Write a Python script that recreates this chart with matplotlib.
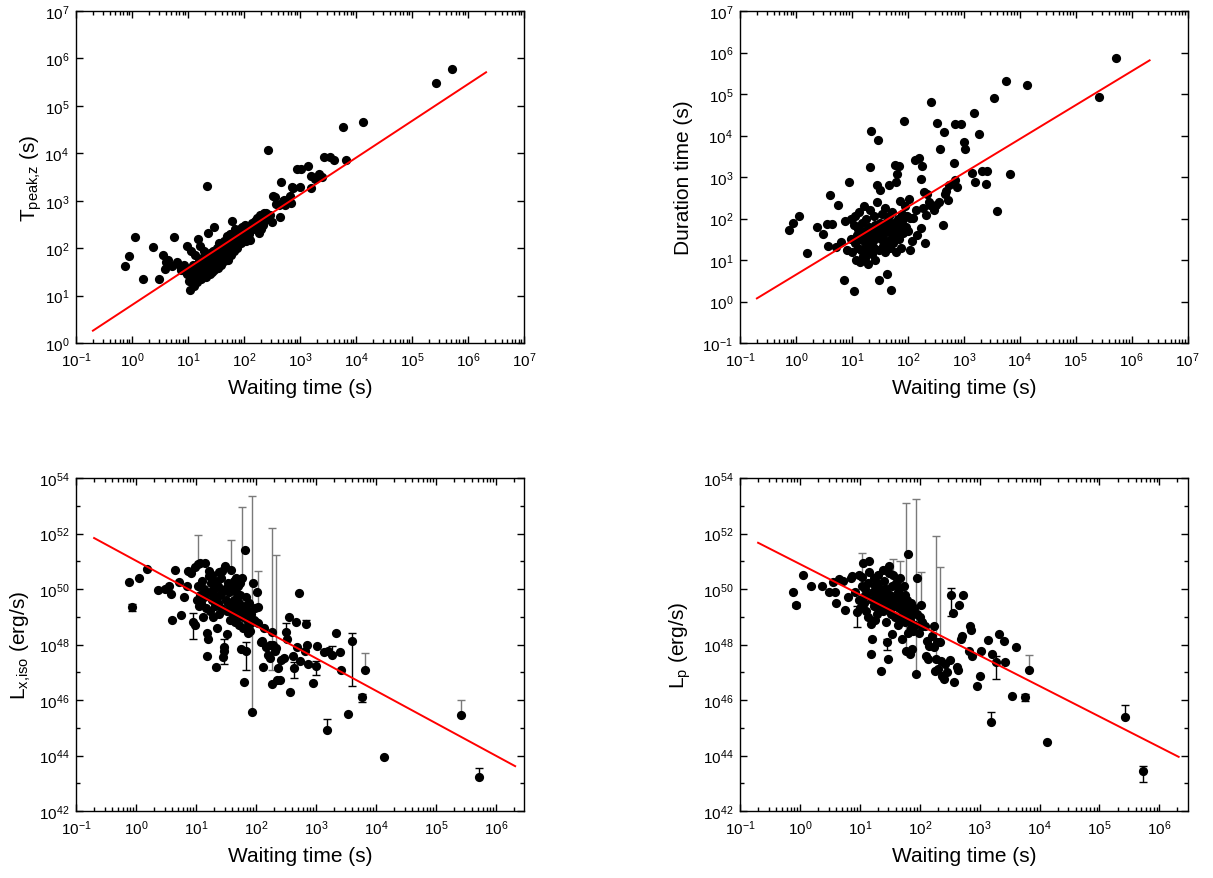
import numpy as np
import matplotlib
matplotlib.use("Agg")
import matplotlib.pyplot as plt
from matplotlib.ticker import FixedLocator, LogLocator, FuncFormatter, NullLocator, NullFormatter

# ---------------- data (log10 values) ----------------
log_wait = [
    -0.12, -0.06, 0.05, 0.19, 0.37, 0.49, 0.55, 0.58, 0.60, 0.65,
    0.72, 0.755, 0.80, 0.85, 0.875, 0.92, 0.955, 0.98, 0.99,
    1.01, 1.03, 1.04, 1.05, 1.06, 1.07, 1.09, 1.10, 1.11, 1.13,
    1.14, 1.15, 1.16, 1.18, 1.19, 1.20, 1.21, 1.22, 1.23, 1.24,
    1.25, 1.26, 1.27, 1.28, 1.29, 1.30, 1.31, 1.32, 1.33, 1.34,
    1.35, 1.36, 1.37, 1.38, 1.39, 1.40, 1.41, 1.42, 1.43, 1.44,
    1.45, 1.46, 1.47, 1.48, 1.49, 1.50, 1.51, 1.52, 1.53, 1.54,
    1.55, 1.56, 1.58, 1.59, 1.60, 1.62, 1.63, 1.64, 1.65, 1.66,
    1.67, 1.68, 1.69, 1.70, 1.71, 1.72, 1.73, 1.74, 1.75, 1.76,
    1.77, 1.78, 1.79, 1.80, 1.81, 1.82, 1.83, 1.84, 1.85, 1.86,
    1.87, 1.88, 1.89, 1.90, 1.92, 1.94, 1.95, 1.96, 1.98, 2.00,
    2.02, 2.03, 2.04,
    2.08, 2.10, 2.12, 2.14, 2.16, 2.20, 2.23, 2.24, 2.26, 2.27,
    2.29, 2.31, 2.33, 2.35, 2.37, 2.40, 2.42, 2.46, 2.50, 2.52,
    2.55, 2.57, 2.62, 2.64, 2.66, 2.69, 2.71, 2.73, 2.82, 2.84,
    2.85, 2.87, 2.95,
    3.00, 3.02, 3.14, 3.19, 3.20, 3.27, 3.33, 3.40, 3.42, 3.54,
    3.60, 3.76, 3.82, 4.13, 5.42, 5.72,
]
log_tpeak = [
    1.62, 1.83, 2.24, 1.36, 2.03, 1.36, 1.86, 1.56, 1.70, 1.75,
    1.62, 2.24, 1.70, 1.63, 1.55, 1.65, 1.50, 2.05, 1.45,
    1.30, 1.12, 1.42, 1.95, 1.55, 1.31, 1.65, 1.20, 1.48, 1.85,
    1.38, 1.60, 1.28, 2.19, 1.50, 1.72, 2.05, 1.40, 1.62, 1.35,
    1.80, 1.55, 1.45, 1.95, 1.68, 1.52, 1.75, 1.40, 3.32, 1.60,
    1.85, 2.33, 1.58, 1.70, 1.45, 1.90, 1.62, 1.50, 1.80, 1.68,
    1.95, 2.44, 1.55, 1.75, 1.88, 1.62, 2.00, 1.70, 1.85, 1.58,
    2.10, 1.78, 1.92, 1.65, 2.05, 1.80, 1.95, 1.72, 2.15, 1.88,
    1.98, 1.82, 2.25, 1.90, 2.05, 1.75, 2.20, 1.95, 2.30, 2.10,
    1.85, 2.58, 2.00, 2.15, 2.30, 1.95, 2.05, 2.40, 2.20, 2.12,
    2.35, 2.00, 2.25, 2.15, 2.40, 2.28, 2.10, 2.45, 2.30, 2.20,
    2.49, 2.35, 2.15,
    2.30, 2.18, 2.45, 2.53, 2.40, 2.58, 2.63, 2.45, 2.55, 2.33,
    2.70, 2.40, 2.48, 2.74, 2.60, 2.74, 4.06, 2.70, 2.55, 3.11,
    3.08, 2.93, 2.90, 2.65, 3.40, 3.00, 3.01, 2.90, 3.10, 2.95,
    3.30, 3.26, 3.66,
    3.30, 3.66, 3.73, 3.53, 3.27, 3.46, 3.57, 3.50, 3.92, 3.92,
    3.85, 4.56, 3.85, 4.65, 5.48, 5.77,
]
log_duration = [
    1.73, 1.89, 2.07, 1.18, 1.79, 1.63, 1.86, 1.33, 2.56, 1.86,
    1.31, 2.33, 1.43, 0.53, 1.95, 1.23, 2.87, 2.00, 1.50,
    1.20, 0.26, 1.85, 2.05, 1.40, 1.00, 1.60, 1.75, 1.30, 2.15,
    0.95, 1.50, 1.25, 1.90, 1.10, 1.65, 2.30, 1.45, 1.05, 1.70,
    1.35, 2.00, 1.20, 1.55, 0.90, 1.80, 1.40, 2.20, 3.23, 1.60,
    4.11, 1.15, 1.70, 1.45, 2.05, 1.30, 1.85, 1.00, 1.55, 2.40,
    2.82, 3.90, 1.65, 1.25, 0.53, 1.90, 2.69, 1.50, 1.75, 2.10,
    1.35, 1.60, 1.80, 1.20, 2.25, 0.66, 1.95, 1.45, 1.70, 2.05,
    2.82, 1.30, 0.28, 1.85, 1.55, 2.15, 1.65, 1.40, 1.90, 1.75,
    3.30, 2.89, 1.20, 3.08, 1.60, 2.00, 1.85, 1.50, 3.26, 2.43,
    1.75, 1.30, 2.10, 1.95, 1.65, 4.35, 2.30, 1.80, 2.05, 1.70,
    2.47, 2.01, 1.24,
    1.47, 2.01, 3.40, 2.20, 1.60, 3.45, 1.78, 2.95, 3.27, 2.25,
    2.63, 1.40, 2.08, 2.60, 2.40, 2.33, 4.81, 2.20, 2.33, 4.31,
    2.39, 3.67, 1.85, 4.08, 2.58, 2.66, 2.45, 2.80, 3.35, 2.94,
    4.29, 2.76, 4.29,
    3.85, 3.67, 3.10, 4.55, 2.87, 4.03, 3.14, 2.83, 3.14, 4.90,
    2.17, 5.32, 3.08, 5.22, 4.94, 5.88,
]
log_lx = [
    50.24, 49.34, 50.38, 50.72, 49.95, 50.00, 50.12, 49.83, 48.90, 50.67,
    50.26, 49.06, 49.70, 50.12, 50.66, 50.58, 48.80, 48.70, 50.80,
    49.60, 50.90, 50.10, 49.40, 50.94, 49.80, 49.50, 50.30, 49.00, 50.00,
    49.70, 50.94, 49.30, 47.60, 48.40, 48.20, 50.48, 50.66, 49.90, 49.20,
    50.20, 49.60, 50.50, 49.00, 49.80, 50.00, 49.40, 50.30, 49.70, 47.18,
    48.60, 50.10, 49.50, 50.60, 49.10, 49.80, 50.40, 49.30, 49.90, 50.66,
    47.54, 47.90, 47.75, 50.00, 50.82, 49.60, 49.20, 48.38, 50.20, 49.50,
    49.90, 48.90, 50.70, 49.40, 50.00, 49.10, 50.30, 49.60, 48.80, 49.90,
    50.40, 49.30, 49.00, 50.10, 49.50, 48.70, 49.80, 50.20, 47.84, 49.20,
    50.40, 49.00, 48.60, 46.66, 51.42, 49.40, 47.76, 49.70, 48.90, 48.40,
    49.20, 48.70, 49.50, 48.50, 49.10, 45.58, 50.20, 48.90, 49.30, 48.80,
    49.90, 49.34, 48.76,
    48.10, 48.14, 47.20, 48.60, 47.90, 47.64, 48.00, 47.50, 46.56, 48.46,
    47.98, 47.75, 47.87, 46.73, 47.17, 46.73, 47.45, 47.51, 48.46, 48.20,
    48.98, 46.28, 47.60, 47.17, 48.80, 47.90, 49.86, 47.40, 47.78, 48.74,
    48.00, 47.30, 46.63,
    47.21, 47.93, 47.72, 44.92, 47.78, 47.64, 48.41, 47.72, 47.08, 45.50,
    48.13, 46.10, 47.10, 43.93, 45.47, 43.24,
]
log_lp = [
    49.88, 49.42, 50.52, 50.12, 50.12, 49.88, 50.24, 49.90, 49.50, 50.35,
    50.30, 49.24, 49.70, 50.40, 50.46, 49.90, 49.18, 50.50, 49.60,
    49.30, 50.45, 50.10, 49.70, 50.94, 49.50, 50.00, 49.20, 49.80, 50.20,
    49.00, 51.02, 50.60, 48.74, 47.66, 48.20, 49.60, 49.90, 50.40, 49.40,
    48.90, 50.10, 49.70, 50.20, 49.10, 49.80, 50.50, 49.50, 49.30, 49.90,
    47.06, 50.00, 49.60, 50.70, 49.20, 49.40, 50.30, 49.70, 48.80, 50.00,
    48.08, 49.50, 47.48, 50.84, 50.58, 49.30, 49.80, 49.10, 48.38, 50.10,
    49.60, 50.50, 49.40, 49.00, 50.20, 49.70, 48.70, 49.90, 49.30, 50.00,
    50.40, 49.50, 48.90, 48.20, 49.70, 49.10, 50.10, 49.40, 48.80, 49.80,
    47.78, 49.00, 49.60, 48.40, 51.26, 49.20, 48.90, 47.66, 49.50, 48.60,
    47.84, 49.10, 48.50, 49.30, 48.70, 46.94, 50.40, 49.10, 48.40, 49.00,
    49.42, 48.80, 48.68,
    48.68, 47.60, 48.14, 47.48, 47.96, 48.30, 48.68, 47.90, 47.06, 47.48,
    48.10, 47.12, 48.10, 47.40, 46.85, 46.76, 47.30, 47.00, 47.45, 49.78,
    49.13, 46.66, 47.20, 47.08, 49.42, 48.20, 48.30, 49.78, 47.78, 48.66,
    48.54, 47.60, 46.52,
    46.88, 47.78, 48.17, 45.22, 47.66, 47.36, 48.38, 48.13, 47.36, 46.16,
    47.90, 46.10, 47.09, 44.47, 45.38, 43.44,
]

# error bars (log10): waiting time, value, lower end, upper end
lx_err_wait = [-0.06, 0.955, 1.03, 1.47, 1.58, 1.77, 1.83, 1.94, 2.03, 2.27, 2.33,
               2.50, 2.64, 2.84, 3.00, 3.19, 3.27, 3.60, 3.76, 3.82, 5.42, 5.72]
lx_err_val = [49.34, 48.80, 50.90, 47.75, 50.70, 50.40, 47.76, 45.58, 49.34, 48.46, 47.87,
              48.46, 47.17, 48.74, 47.21, 44.92, 47.64, 48.13, 46.10, 47.10, 45.47, 43.24]
lx_err_lo = [49.20, 48.19, 50.90, 47.30, 50.70, 50.40, 47.07, 45.58, 49.34, 47.10, 47.87,
             48.46, 46.78, 48.74, 46.90, 44.92, 47.64, 46.49, 45.94, 47.10, 45.47, 43.24]
lx_err_hi = [49.45, 49.12, 51.95, 48.20, 51.78, 52.97, 48.10, 53.36, 50.64, 52.20, 51.22,
             48.76, 47.36, 48.90, 47.40, 45.33, 47.96, 48.41, 46.20, 47.68, 46.00, 43.55]

lp_err_wait = [-0.06, 0.955, 1.03, 1.45, 1.56, 1.67, 1.77, 1.94, 2.02, 2.27, 2.33,
               2.52, 3.19, 3.27, 3.76, 3.82, 5.42, 5.72]
lp_err_val = [49.42, 49.18, 50.45, 48.08, 50.50, 50.40, 47.78, 46.94, 49.42, 47.48, 48.10,
              49.78, 45.22, 47.36, 46.10, 47.09, 45.38, 43.44]
lp_err_lo = [49.35, 48.64, 50.45, 47.80, 50.50, 50.40, 47.78, 46.94, 49.42, 47.48, 48.10,
             49.04, 45.22, 46.76, 45.98, 47.09, 45.38, 43.03]
lp_err_hi = [49.50, 49.40, 51.30, 48.20, 51.08, 51.00, 53.10, 53.24, 50.62, 51.90, 50.80,
             50.04, 45.58, 47.60, 46.22, 47.62, 45.82, 43.63]

# best-fit power laws: log y = intercept + slope * log x
fit_range = (0.2, 2.1e6)
fit_tpeak = (0.803, 0.776)
fit_duration = (0.647, 0.817)
fit_lx = (51.02, -1.171)
fit_lp = (50.90, -1.099)

# ---------------- styling ----------------
plt.rcParams.update({
    "font.family": ["Liberation Sans", "DejaVu Sans"],
    "mathtext.fontset": "custom",
    "mathtext.rm": "Liberation Sans",
    "mathtext.it": "Liberation Sans:italic",
    "mathtext.bf": "Liberation Sans:bold",
})

fig = plt.figure(figsize=(12.13, 8.79), dpi=100)
ax_tl = fig.add_axes([0.0627, 0.6086, 0.3693, 0.3777])
ax_tr = fig.add_axes([0.6101, 0.6086, 0.3689, 0.3777])
ax_bl = fig.add_axes([0.0627, 0.0762, 0.3693, 0.3788])
ax_br = fig.add_axes([0.6101, 0.0762, 0.3689, 0.3788])


def pow_fmt(v, pos):
    return r"$10^{%d}$" % int(round(np.log10(v)))


def style(ax, xmax_log, ymin, ymax, ystep):
    ax.set_xscale("log")
    ax.set_yscale("log")
    ax.set_xlim(10.0 ** -1, 10.0 ** xmax_log)
    ax.set_ylim(10.0 ** ymin, 10.0 ** ymax)
    ax.xaxis.set_major_locator(FixedLocator(10.0 ** np.arange(-1, 8)))
    ax.xaxis.set_minor_locator(LogLocator(base=10, subs=np.arange(2, 10), numticks=40))
    ax.yaxis.set_major_locator(FixedLocator(10.0 ** np.arange(ymin, ymax + 1, ystep)))
    if ystep == 2:
        ax.yaxis.set_minor_locator(FixedLocator(10.0 ** np.arange(ymin + 1, ymax, 2)))
    else:
        ax.yaxis.set_minor_locator(NullLocator())
    ax.xaxis.set_major_formatter(FuncFormatter(pow_fmt))
    ax.yaxis.set_major_formatter(FuncFormatter(pow_fmt))
    ax.xaxis.set_minor_formatter(NullFormatter())
    ax.yaxis.set_minor_formatter(NullFormatter())
    ax.tick_params(which="both", direction="in", top=True, right=True,
                   labelsize=11, width=1, colors="black")
    ax.tick_params(which="major", length=5, pad=5)
    ax.tick_params(which="minor", length=3)
    for sp in ax.spines.values():
        sp.set_linewidth(1.0)
    ax.set_xlabel("Waiting time (s)", fontsize=15)
    ax.xaxis.set_label_coords(0.5, -0.105)


def draw(ax, y, fit):
    w = 10.0 ** np.asarray(log_wait)
    ax.scatter(w, 10.0 ** np.asarray(y), s=44, c="black", linewidths=0, zorder=3)
    xx = np.logspace(np.log10(fit_range[0]), np.log10(fit_range[1]), 60)
    ax.plot(xx, 10.0 ** (fit[0] + fit[1] * np.log10(xx)), color="#ff0000", lw=1.4, zorder=4)


def bars(ax, xw, val, lo, hi):
    xw = np.asarray(xw); val = np.asarray(val); lo = np.asarray(lo); hi = np.asarray(hi)
    long_ = (hi - val) > 0.5
    for mask, col in ((long_, "#7a7a7a"), (~long_, "black")):
        yv = 10.0 ** val[mask]
        ax.errorbar(10.0 ** xw[mask], yv,
                    yerr=[yv - 10.0 ** lo[mask], 10.0 ** hi[mask] - yv],
                    fmt="none", ecolor=col, elinewidth=1, capsize=3, capthick=1, zorder=2)


style(ax_tl, 7, 0, 7, 1)
draw(ax_tl, log_tpeak, fit_tpeak)
ax_tl.set_ylabel(r"T$_{\mathrm{peak{,}z}}$ (s)", fontsize=15)
ax_tl.yaxis.set_label_coords(-0.072, 0.5)

style(ax_tr, 7, -1, 7, 1)
draw(ax_tr, log_duration, fit_duration)
ax_tr.set_ylabel("Duration time (s)", fontsize=15)
ax_tr.yaxis.set_label_coords(-0.105, 0.5)

style(ax_bl, 6.47, 42, 54, 2)
bars(ax_bl, lx_err_wait, lx_err_val, lx_err_lo, lx_err_hi)
draw(ax_bl, log_lx, fit_lx)
ax_bl.set_ylabel(r"L$_{\mathrm{x{,}iso}}$ (erg/s)", fontsize=15)
ax_bl.yaxis.set_label_coords(-0.095, 0.5)

style(ax_br, 6.47, 42, 54, 2)
bars(ax_br, lp_err_wait, lp_err_val, lp_err_lo, lp_err_hi)
draw(ax_br, log_lp, fit_lp)
ax_br.set_ylabel(r"L$_{\mathrm{p}}$ (erg/s)", fontsize=15)
ax_br.yaxis.set_label_coords(-0.105, 0.5)

fig.savefig("out.png", dpi=100)
